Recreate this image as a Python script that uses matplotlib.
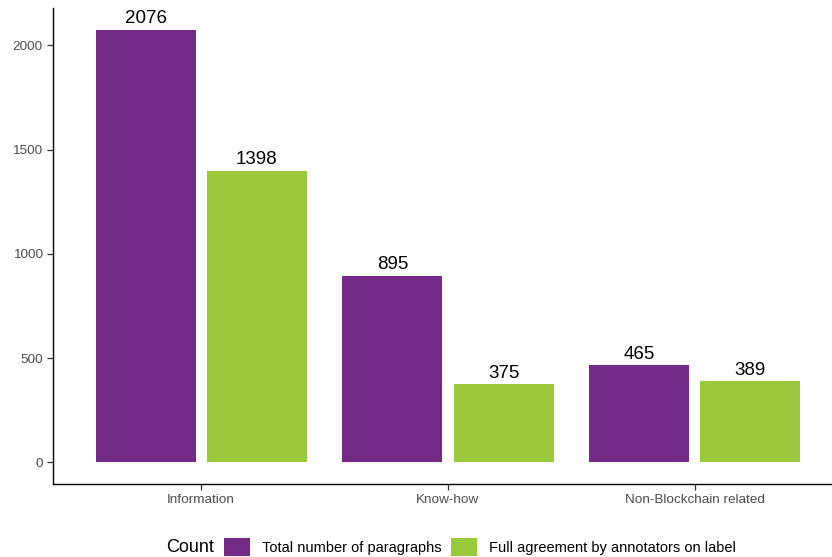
import matplotlib
matplotlib.use("Agg")
import matplotlib.pyplot as plt
import numpy as np
from matplotlib.patches import Patch

categories = ["Information", "Know-how", "Non-Blockchain related"]
series_names = ["Total number of paragraphs", "Full agreement by annotators on label"]
total_vals = [2076, 895, 465]
agree_vals = [1398, 375, 389]
yticks = [0, 500, 1000, 1500, 2000]
colors = ["#732A87", "#9ACA3C"]

plt.rcParams["font.family"] = ["Liberation Sans", "DejaVu Sans"]

fig = plt.figure(figsize=(8.32, 5.57), dpi=100)
ax = fig.add_axes([53/832, 73/557, (843-53)/832, (484-8)/557])

x = np.arange(1, len(categories) + 1)
w = 0.405
off = 0.225
for vals, sign, col in [(total_vals, -1, colors[0]), (agree_vals, 1, colors[1])]:
    ax.bar(x + sign*off, vals, width=w, color=col, edgecolor="none")
    for xi, v in zip(x + sign*off, vals):
        ax.text(xi, v + 12, str(v), ha="center", va="bottom", fontsize=13.5, color="black")

ax.set_xlim(0.4, 3.6)
ax.set_ylim(-103.8, 2179.8)
ax.set_xticks(x)
ax.set_xticklabels(categories)
ax.set_yticks(yticks)
ax.tick_params(axis="both", labelsize=9.7, labelcolor="#4D4D4D", color="#333333", length=4, width=0.9)
for s in ["top", "right"]:
    ax.spines[s].set_visible(False)
for s in ["left", "bottom"]:
    ax.spines[s].set_linewidth(1.0)
    ax.spines[s].set_color("black")

fig.text(166/832, 1 - 548/557, "Count", fontsize=13, va="center", ha="left")
handles = [Patch(facecolor=c, edgecolor="none") for c in colors]
leg = fig.legend(handles, series_names, loc="center left", bbox_to_anchor=(224/832, 1 - 547/557),
                 ncol=2, frameon=False, fontsize=10.5, handlelength=1.78, handleheight=1.55,
                 handletextpad=0.8, columnspacing=0.7, borderaxespad=0, borderpad=0)

fig.savefig("out.png", dpi=100)
